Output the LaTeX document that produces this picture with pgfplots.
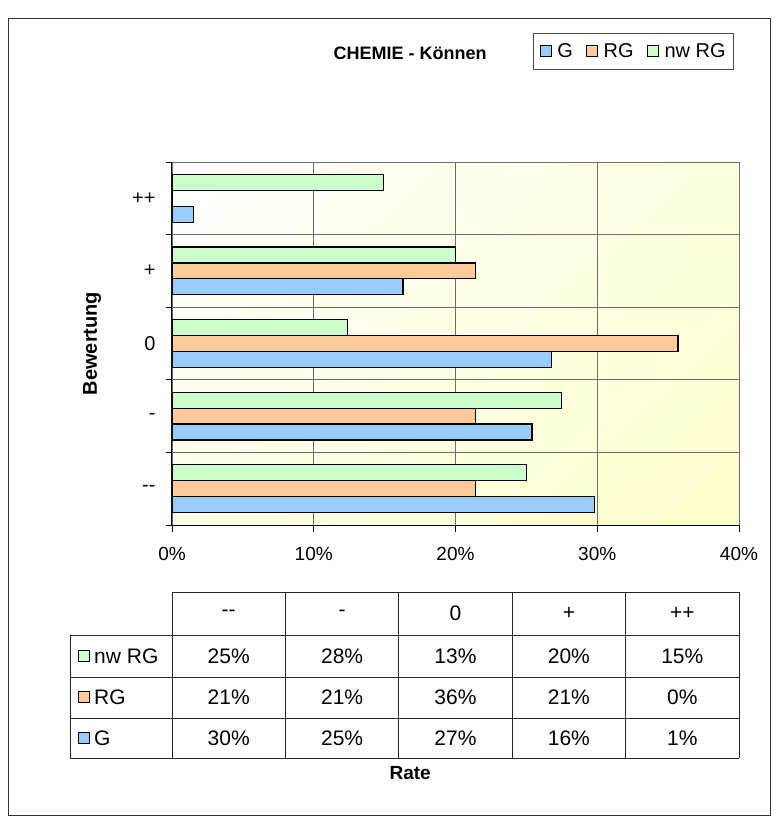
\documentclass[border=0pt]{standalone}
\usepackage{pgfplots}
\pgfplotsset{compat=1.18}
\usepackage{pgfplotstable}
\usepackage{fontspec}
\setmainfont{Liberation Sans}
\usetikzlibrary{shadings}

\definecolor{cG}{HTML}{99CCFF}
\definecolor{cRG}{HTML}{FFCC99}
\definecolor{cNW}{HTML}{CCFFCC}
\definecolor{gridc}{HTML}{6E6E6E}
\definecolor{bgY}{HTML}{FFFFCC}

% rows: 0 = --, 1 = -, 2 = 0, 3 = +, 4 = ++
\pgfplotstableread{
cat G    RG   NW
0   29.8 21.4 25.0
1   25.4 21.4 27.5
2   26.8 35.7 12.4
3   16.3 21.4 20.0
4   1.5  0.0  14.9
}\rates

\begin{document}
\begin{tikzpicture}[font=\fontsize{19}{22}\selectfont]
\useasboundingbox (-172pt,-296pt) rectangle (607pt,525pt);
\draw[line width=0.8pt, black!80] (-164pt,-290pt) rectangle (598pt,507pt);

\begin{axis}[
  at={(0pt,0pt)}, anchor=south west,
  scale only axis, width=567pt, height=363pt,
  xbar, bar width=0.22,
  xmin=0, xmax=40, ymin=-0.5, ymax=4.5,
  axis lines*=left,
  axis line style={black, line width=1pt},
  axis background/.style={shading=bilinear interpolation,
    upper left=white, upper right=bgY!60!white,
    lower left=bgY!45!white, lower right=bgY},
  xtick={0,10,20,30,40},
  xticklabels={0\%,10\%,20\%,30\%,40\%},
  xticklabel style={yshift=-12pt},
  ytick={0,1,2,3,4},
  yticklabels={{-{}-},-,0,+,++},
  yticklabel style={xshift=-6pt, font=\fontsize{20}{22}\selectfont},
  minor ytick={-0.5,0.5,1.5,2.5,3.5,4.5},
  major y tick style={draw=none},
  tick align=outside,
  major tick length=7pt, minor tick length=6pt,
  tick style={black, line width=0.8pt},
  xmajorgrids, yminorgrids,
  grid style={gridc, line width=0.8pt},
  minor grid style={gridc, line width=0.8pt},
  title={\bfseries CHEMIE - Können},
  title style={at={(axis description cs:0.42,1.283)}, anchor=center,
    font=\fontsize{18}{21}\selectfont},
  xlabel={\bfseries Rate},
  xlabel style={at={(axis description cs:0.42,-0.683)}, anchor=center},
  ylabel={\bfseries Bewertung},
  ylabel style={at={(axis description cs:-0.141,0.5)}, anchor=center,
    font=\fontsize{20}{22}\selectfont},
  legend columns=3,
  legend style={at={(axis description cs:0.637,1.355)}, anchor=north west,
    draw=black!70, line width=0.8pt, inner xsep=6pt, inner ysep=8pt,
    font=\fontsize{20}{22}\selectfont,
    /tikz/every odd column/.append style={column sep=4pt},
    /tikz/every even column/.append style={column sep=11pt}},
  legend image code/.code={\draw[#1, line width=0.8pt] (0pt,-5.5pt) rectangle (11pt,5.5pt);},
]
\addplot[fill=cG, draw=black, line width=1.2pt, bar shift=-0.22] table[x=G, y=cat]{\rates};
\addplot[fill=cRG, draw=black, line width=1.2pt, bar shift=0] table[x=RG, y=cat]{\rates};
\addplot[fill=cNW, draw=black, line width=1.2pt, bar shift=0.22] table[x=NW, y=cat]{\rates};
\legend{G, RG, nw RG}
\end{axis}

% data table under the chart
\begin{scope}[line width=0.8pt, draw=black!85]
\draw (0pt,-67pt) -- (567pt,-67pt);
\foreach \y in {-110,-152,-193,-233} \draw (-102pt,\y pt) -- (567pt,\y pt);
\foreach \x in {0,113.4,226.8,340.2,453.6,567} \draw (\x pt,-67pt) -- (\x pt,-233pt);
\draw (-102pt,-110pt) -- (-102pt,-233pt);
\end{scope}
\begin{scope}[font=\fontsize{21}{24}\selectfont]
\foreach \t [count=\i from 0] in {{-{}-},-,0,+,++}
  \node at (56.7pt+\i*113.4pt,-88pt) {\t};
\foreach \t [count=\i from 0] in {25\%,28\%,13\%,20\%,15\%}
  \node at (56.7pt+\i*113.4pt,-131pt) {\t};
\foreach \t [count=\i from 0] in {21\%,21\%,36\%,21\%,0\%}
  \node at (56.7pt+\i*113.4pt,-172pt) {\t};
\foreach \t [count=\i from 0] in {30\%,25\%,27\%,16\%,1\%}
  \node at (56.7pt+\i*113.4pt,-213pt) {\t};
\foreach \c/\t/\y in {cNW/nw RG/-131, cRG/RG/-172, cG/G/-213} {
  \draw[fill=\c, line width=0.8pt] (-94pt,\y pt-5.5pt) rectangle (-83pt,\y pt+5.5pt);
  \node[anchor=west, inner sep=0pt] at (-78pt,\y pt) {\t};
}
\end{scope}
\end{tikzpicture}
\end{document}
